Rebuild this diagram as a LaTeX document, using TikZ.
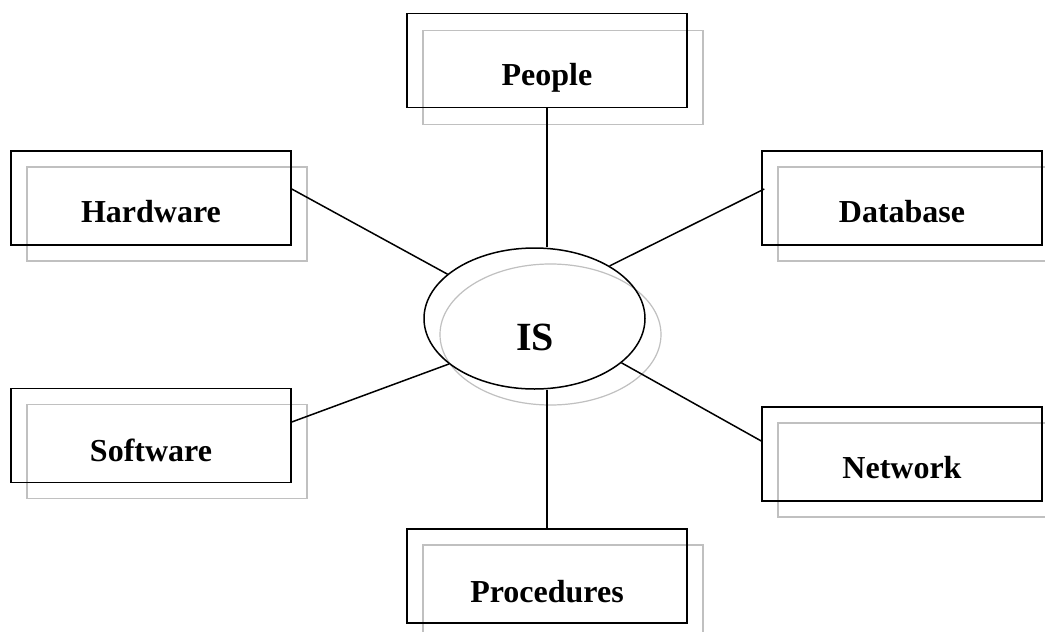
\documentclass[tikz,border=0pt]{standalone}
\usepackage{fontspec}
\setmainfont{Liberation Serif}
\usetikzlibrary{shapes.geometric,calc}
\definecolor{shadowgray}{RGB}{192,192,192}
\tikzset{
  part/.style={draw=black, line width=1.5pt, minimum width=280pt, minimum height=94pt, inner sep=0pt},
  partshadow/.style={draw=shadowgray, line width=1.2pt, minimum width=280pt, minimum height=94pt, inner sep=0pt},
  core/.style={ellipse, draw=black, line width=1.5pt, minimum width=221pt, minimum height=141pt, inner sep=0pt},
  coreshadow/.style={ellipse, draw=shadowgray, line width=1.2pt, minimum width=221pt, minimum height=141pt, inner sep=0pt},
  partlabel/.style={anchor=base, inner sep=0pt, font=\fontsize{32}{32}\selectfont\bfseries},
  corelabel/.style={anchor=base, inner sep=0pt, font=\fontsize{40}{40}\selectfont\bfseries},
  link/.style={draw=black, line width=1.5pt}
}
\begin{document}
\begin{tikzpicture}[x=1pt, y=-1pt]
\useasboundingbox[fill=white] (0,0) rectangle (1045,632);

% offset outlines behind each shape
\node[partshadow] (pps) at (563,77.5) {};
\node[partshadow] (hws) at (167,214) {};
\node[partshadow] (dbs) at (918,214) {};
\node[partshadow] (sws) at (167,451.5) {};
\node[partshadow] (nws) at (918,470) {};
\node[partshadow] (prs) at (563,592) {};
\node[coreshadow] (iss) at (550.5,334.5) {};

% the central system and its components
\node[core] (is) at (534.5,318.5) {};
\node[part] (pp) at (547,60.5) {};
\node[part] (hw) at (151,198) {};
\node[part] (db) at (902,198) {};
\node[part] (sw) at (151,435.5) {};
\node[part] (nw) at (902,454) {};
\node[part] (pr) at (547,576) {};

% labels
\node[corelabel] (isl) at (535,350) {IS};
\node[partlabel] (ppl) at ($(pp.north)+(0,73)$) {People};
\node[partlabel] (hwl) at ($(hw.north)+(0,72)$) {Hardware};
\node[partlabel] (dbl) at ($(db.north)+(0,72)$) {Database};
\node[partlabel] (swl) at ($(sw.north)+(0,74)$) {Software};
\node[partlabel] (nwl) at ($(nw.north)+(0,72)$) {Network};
\node[partlabel] (prl) at ($(pr.north)+(0,74)$) {Procedures};

% connectors
\draw[link] (pp.south) -- (pp.south |- is.north);
\draw[link] (pr.north) -- (pr.north |- is.south);
\draw[link] ($(hw.east)+(0,-9)$) -- (is.153.6);
\draw[link] ($(db.west)+(3,-9)$) -- (is.35.9);
\draw[link] ($(sw.east)+(0,-13.5)$) -- (is.208.5);
\draw[link] ($(nw.west)+(0,-13)$) -- (is.333.8);
\end{tikzpicture}
\end{document}
